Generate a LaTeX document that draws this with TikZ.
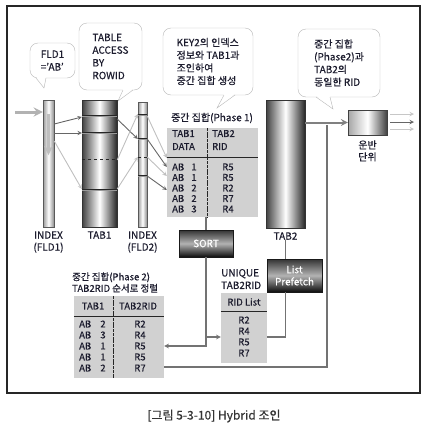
\documentclass[tikz,border=0pt]{standalone}
\usepackage{fontspec}
\setmainfont{Noto Sans CJK KR}[FakeBold=0.35]
\usetikzlibrary{positioning}
\definecolor{inkdark}{RGB}{28,28,46}

\begin{document}
\begin{tikzpicture}[x=1pt,y=-1pt,
    every node/.style={text=inkdark,inner sep=0pt},
    note/.style={draw=black!28,fill=white,rounded corners=8pt,align=left,font=\fontsize{10}{12.7}\selectfont},
    notetail/.style={draw=black!28},
    idxcol/.style={draw=black!65,left color=black!40,right color=black!45,middle color=white},
    tabcol/.style={draw=black!80,left color=black!75,right color=black!85,middle color=white},
    opbox/.style={draw=black!90,top color=black!80,bottom color=black!95,middle color=black!30,text=white,align=center,font=\fontsize{10}{12}\selectfont},
    tablebox/.style={fill=black!18},
    cell/.style={font=\fontsize{9.5}{13}\selectfont,align=left},
    lbl/.style={font=\fontsize{10}{12}\selectfont,align=center},
    band/.style={draw=black!85,line width=0.6pt,double=black!40,double distance=0.8pt},
    darkarrow/.style={-stealth,black!60,line width=0.9pt},
    lightarrow/.style={-stealth,black!25,line width=0.9pt},
    link/.style={black!55,line width=1.1pt}
  ]
  \useasboundingbox (0,0) rectangle (430,434);
  \draw[line width=1.5pt,black!85] (7,6) rectangle (420,393);% frame

  % callouts
  \node[note,minimum width=45pt,minimum height=35pt] (fldnote) at (52.5,60.5) {FLD1\\='AB'};
  \fill[white] (36,76.5) -- (44,88) -- (46,76.5) -- cycle;
  \draw[notetail] (36,78) -- (44,88) -- (46,78);
  \node[note,minimum width=63pt,minimum height=67pt] (accessnote) at (110.5,56.5) {TABLE\\ACCESS\\BY\\ROWID};
  \fill[white] (123,88.5) -- (118,101) -- (133,88.5) -- cycle;
  \draw[notetail] (123,90) -- (118,101) -- (133,90);
  \node[note,minimum width=90pt,minimum height=67pt] (joinnote) at (208,61.5) {KEY2의 인덱스\\정보와 TAB1과\\조인하여\\중간 집합 생성};
  \fill[white] (224,93.5) -- (217,108) -- (235,93.5) -- cycle;
  \draw[notetail] (224,95) -- (217,108) -- (235,95);
  \node[note,minimum width=82pt,minimum height=68pt] (ridnote) at (339,63) {중간 집합\\(Phase2)과\\TAB2의\\동일한 RID};
  \fill[white] (316,95.5) -- (333,109) -- (330,95.5) -- cycle;
  \draw[notetail] (316,97) -- (333,109) -- (330,97);

  % columns
  \node[idxcol,minimum width=11pt,minimum height=127pt] (idxone) at (48.5,163.5) {};
  \node[tabcol,minimum width=35pt,minimum height=127pt] (tabone) at (99.5,163.5) {};
  \node[idxcol,minimum width=9pt,minimum height=125pt] (idxtwo) at (142.5,164.5) {};
  \node[tabcol,minimum width=39pt,minimum height=128pt] (tabtwo) at (285.5,164) {};
  \node[draw=black!75,left color=black!35,right color=black!75,middle color=white,minimum width=39pt,minimum height=25pt] (unit) at (367.5,122.5) {};

  \draw[band] (tabone.west |- 0,116) -- (tabone.east |- 0,116);
  \draw[band] (tabone.west |- 0,133) -- (tabone.east |- 0,133);
  \draw[black!85,dashed,line width=0.8pt] (tabone.west |- 0,159) -- (tabone.east |- 0,159);
  \draw[band] (tabone.west |- 0,190) -- (tabone.east |- 0,190);
  \draw[band] (idxtwo.west |- 0,115) -- (idxtwo.east |- 0,115);
  \draw[band] (idxtwo.west |- 0,139) -- (idxtwo.east |- 0,139);
  \draw[black!85,dashed,line width=0.8pt] (idxtwo.west |- 0,157) -- (idxtwo.east |- 0,157);
  \draw[band] (idxtwo.west |- 0,176) -- (idxtwo.east |- 0,176);

  \node[lbl,below=4pt of idxone] (idxonelabel) {INDEX\\(FLD1)};
  \node[lbl,below=4pt of tabone] (tabonelabel) {TAB1};
  \node[lbl,below=4pt of idxtwo] (idxtwolabel) {INDEX\\(FLD2)};
  \node[lbl,below=4pt of tabtwo] (tabtwolabel) {TAB2};
  \node[lbl,below=5pt of unit] (unitlabel) {운반\\단위};

  % access path
  \coordinate (feed) at (15,112);
  \draw[-stealth,black!30,line width=3pt] (feed) -- (idxone.west |- feed);
  \draw[-stealth,black!25,line width=3pt] (idxone.center |- 0,114) -- (idxone.center |- 0,155);
  \draw[darkarrow] (idxone.east |- 0,124) -- (tabone.west |- 0,117);
  \draw[darkarrow] (idxone.east |- 0,133) -- (tabone.west |- 0,133);
  \draw[lightarrow] (idxone.east |- 0,141) -- (tabone.west |- 0,189);
  \draw[darkarrow] (tabone.east |- 0,119) -- (idxtwo.west |- 0,139);
  \draw[lightarrow] (tabone.east |- 0,160) -- (idxtwo.west |- 0,114);
  \draw[lightarrow] (tabone.east |- 0,189) -- (idxtwo.west |- 0,157);

  % phase 1
  \node[lbl] (phaseonetitle) at (212,118) {중간 집합(Phase 1)};
  \node[tablebox,minimum width=91pt,minimum height=89pt] (phaseone) at (212.5,172.5) {};
  \draw[black!85,line width=0.9pt] (phaseone.west |- 0,157) -- (phaseone.east |- 0,157);
  \draw[black!85,line width=0.8pt,dashed,dash pattern=on 3pt off 0.7pt] (phaseone.north -| 207,0) -- (phaseone.south -| 207,0);
  \node[cell,anchor=west] (onedata) at (172,140) {TAB1\\DATA};
  \node[cell,anchor=west] (onerid) at (212,140) {TAB2\\RID};
  \foreach \n/\r [count=\i] in {1/R5,1/R5,2/R2,2/R7,3/R4}{
    \node[cell,anchor=west] (onekey\i) at (172,156.5+\i*10.5) {AB};
    \node[cell] (onenum\i) at (194,156.5+\i*10.5) {\n};
    \node[cell] (onerow\i) at (228,156.5+\i*10.5) {\r};
  }
  \draw[lightarrow] (idxtwo.east |- 0,116) -- (phaseone.west |- 0,158);
  \draw[darkarrow] (idxtwo.east |- 0,139) -- (phaseone.west |- 0,167);
  \draw[lightarrow] (idxtwo.east |- 0,157) -- (phaseone.west |- 0,176);
  \draw[darkarrow] (idxtwo.east |- 0,176) -- (phaseone.west |- 0,190);

  % sort, prefetch
  \node[opbox,minimum width=54pt,minimum height=27pt] (sortbox) at (206,243.5) {SORT};
  \node[opbox,minimum width=55pt,minimum height=33pt] (prefetch) at (294.5,275.5) {List\\Prefetch};

  % phase 2
  \node[anchor=west,align=left,font=\fontsize{9.5}{11.5}\selectfont] (phasetwotitle) at (72,282.5) {중간 집합(Phase 2)\\TAB2RID 순서로 정렬};
  \node[tablebox,minimum width=90pt,minimum height=82pt] (phasetwo) at (119,337) {};
  \draw[black!85,line width=0.9pt] (phasetwo.west |- 0,316) -- (phasetwo.east |- 0,316);
  \draw[black!85,line width=0.8pt,dashed,dash pattern=on 3pt off 0.7pt] (phasetwo.north -| 113,0) -- (phasetwo.south -| 113,0);
  \node[cell] (twodata) at (93,306) {TAB1};
  \node[cell] (tworid) at (138,306) {TAB2RID};
  \foreach \n/\r [count=\i] in {2/R2,3/R4,1/R5,1/R5,2/R7}{
    \node[cell,anchor=west] (twokey\i) at (79,313+\i*11) {AB};
    \node[cell] (twonum\i) at (103,313+\i*11) {\n};
    \node[cell] (tworow\i) at (140,313+\i*11) {\r};
  }

  % rid list
  \node[anchor=west,align=left,font=\fontsize{10}{12.5}\selectfont] (uniquetitle) at (221,279) {UNIQUE\\TAB2RID};
  \node[tablebox,minimum width=46pt,minimum height=70pt] (ridbox) at (244,328) {};
  \draw[black!85,line width=0.9pt] (ridbox.west |- 0,311) -- (ridbox.east |- 0,311);
  \node[cell] (ridhead) at (244,302) {RID List};
  \foreach \r [count=\i] in {R2,R4,R5,R7}{
    \node[cell] (ridrow\i) at (244,309+\i*11) {\r};
  }

  % connectors
  \draw[link] (phaseone.south -| sortbox) -- (sortbox.north);
  \draw[link,-stealth] (sortbox.south) |- (phasetwo.east |- 0,346);
  \draw[link,-stealth] (sortbox.south |- 0,337) -- (ridbox.west |- 0,337);
  \draw[link] (tabtwolabel.south) -- (prefetch.north -| tabtwolabel.south);
  \draw[link] (prefetch.south -| tabtwo.center) |- (ridbox.east |- 0,337);
  \coordinate (tee) at (327,125);
  \draw[link] (phasetwo.east |- 0,367) -| (tee);
  \draw[-stealth,black!50,line width=2pt] (tabtwo.east |- unit.west) -- (unit.west);
  \foreach \yy/\col in {114/black!22,122/black!60,129/black!22}
    \draw[-stealth,\col,line width=1pt] (390,\yy) -- (414,\yy);

  \node[font=\fontsize{12}{14}\selectfont,text=black!80] (caption) at (214,416) {[그림 5-3-10] Hybrid 조인};
\end{tikzpicture}
\end{document}
